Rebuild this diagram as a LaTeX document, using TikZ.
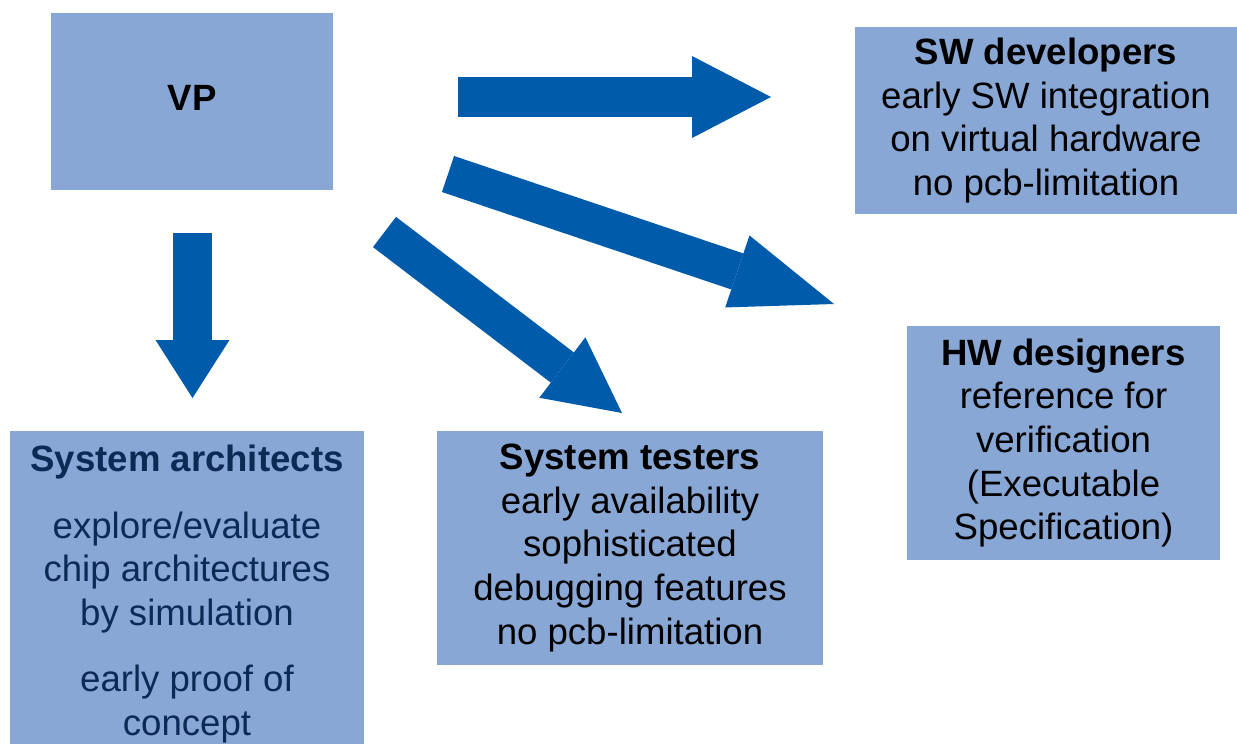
\documentclass[tikz,border=0pt]{standalone}
\usepackage{fontspec}
\setmainfont{Liberation Sans}
\usetikzlibrary{arrows.meta}
\definecolor{boxblue}{HTML}{88A7D5}
\definecolor{arrowblue}{HTML}{005BAA}
\definecolor{navy}{HTML}{0D2A55}
\begin{document}
\begin{tikzpicture}[x=1pt, y=-1pt, font=\fontsize{36.6}{43.6}\selectfont,
	box/.style={fill=boxblue, align=center, inner sep=0pt},
	bigarrow/.style n args={3}{draw=arrowblue, line width=#1,
		-{Triangle[length=#2, width=#3, line width=0pt]}}]
	\clip (0,0) rectangle (1237,744);
	% boxes
	\node[box, minimum width=282, minimum height=177] (vp) at (192,101.5)
		{\raisebox{4pt}[\height][\depth]{\textbf{VP}}};
	\node[box, minimum width=382, minimum height=187] (swdev) at (1046,120.5)
		{\textbf{SW developers}\\early SW integration\\on virtual hardware\\no pcb-limitation};
	\node[box, minimum width=313, minimum height=234] (hwdes) at (1063.5,443)
		{\textbf{HW designers}\\reference for\\verification\\(Executable\\Specification)};
	\node[box, minimum width=386, minimum height=234] (systest) at (630,548)
		{\textbf{System testers}\\early availability\\sophisticated\\debugging features\\no pcb-limitation};
	\node[box, text=navy, minimum width=354, minimum height=326] (sysarch) at (187,594)
		{\textbf{System architects}\\[23pt]explore/evaluate\\chip architectures\\by simulation\\[23pt]early proof of\\concept};
	% arrows
	\coordinate (a1) at (192.5,233); \coordinate (b1) at (192.5,398);
	\coordinate (a2) at (458,97);    \coordinate (b2) at (771,97);
	\coordinate (a3) at (448,174);   \coordinate (b3) at (834,304);
	\coordinate (a4) at (384.5,232); \coordinate (b4) at (622,413);
	\draw[bigarrow={39pt}{58pt}{74pt}] (a1) -- (b1);
	\draw[bigarrow={40pt}{79pt}{82pt}] (a2) -- (b2);
	\draw[bigarrow={38pt}{102pt}{76pt}] (a3) -- (b3);
	\draw[bigarrow={38pt}{75pt}{76pt}] (a4) -- (b4);
\end{tikzpicture}
\end{document}
